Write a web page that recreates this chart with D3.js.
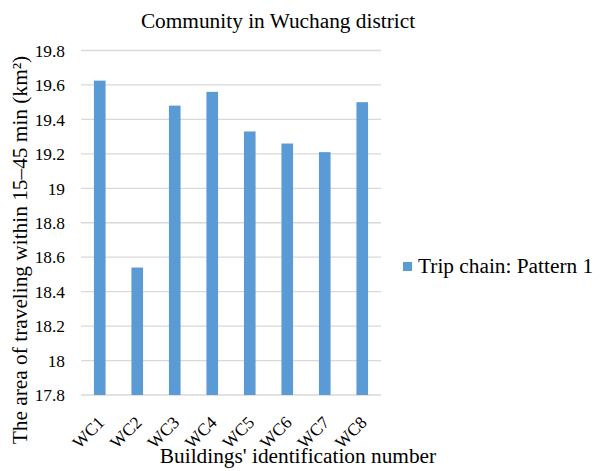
<!DOCTYPE html>
<html><head><meta charset="utf-8">
<script src="https://cdn.jsdelivr.net/npm/d3@7"></script>
<style>body{margin:0;background:#fff}svg{display:block}</style>
</head><body><svg id="c" width="608" height="471"></svg>
<script>
const categories = ["WC1","WC2","WC3","WC4","WC5","WC6","WC7","WC8"];
const values = [19.625, 18.54, 19.48, 19.56, 19.33, 19.26, 19.21, 19.50];
const yTicks = [17.8,18,18.2,18.4,18.6,18.8,19,19.2,19.4,19.6,19.8];
const seriesName = "Trip chain: Pattern 1";
const title = "Community in Wuchang district";
const xTitle = "Buildings' identification number";
const yTitle = "The area of traveling within 15\u201345 min (km\u00B2)";

const FONT = "'Liberation Serif', 'Times New Roman', serif";
const svg = d3.select("#c");
const m = {left:81, right:381, top:50.5, bottom:395};
const x = d3.scaleBand().domain(categories).range([m.left, m.right]).paddingInner(0.69).paddingOuter(0.345);
const y = d3.scaleLinear().domain([17.8,19.8]).range([m.bottom, m.top]);

// gridlines
svg.append("g").selectAll("line").data(yTicks).join("line")
  .attr("x1", m.left).attr("x2", m.right)
  .attr("y1", d=>y(d)).attr("y2", d=>y(d))
  .attr("stroke", "#D9D9D9").attr("stroke-width", 1.3);

// y tick labels
const yAxis = d3.axisLeft(y).tickValues(yTicks).tickSize(0).tickPadding(0).tickFormat(d=>String(+d.toFixed(1)));
const ya = svg.append("g").attr("transform", `translate(${65},0)`).call(yAxis);
ya.select(".domain").remove();
ya.attr("font-family", FONT).attr("font-size", 17.33);
ya.selectAll("text").attr("fill","#000").attr("dy","0.33em");

// bars
svg.append("g").selectAll("rect").data(values).join("rect")
  .attr("x", (d,i)=>x(categories[i])).attr("width", x.bandwidth())
  .attr("y", d=>y(d)).attr("height", d=>y(17.8)-y(d))
  .attr("fill", "#5B9BD5");

// x tick labels
const xAxis = d3.axisBottom(x).tickSize(0).tickPadding(0);
const xa = svg.append("g").attr("transform", `translate(0,${m.bottom})`).call(xAxis);
xa.select(".domain").remove();
xa.attr("font-family", FONT).attr("font-size", 17.33);
xa.selectAll(".tick text")
  .attr("fill","#000")
  .attr("text-anchor","end").attr("y",0).attr("dy","0.7em")
  .attr("transform","translate(-3,20) rotate(-45)");

// title
svg.append("text").attr("x", 278).attr("y", 28).attr("text-anchor","middle").attr("font-family", FONT).attr("font-size",21.33).text(title);
// x title
svg.append("text").attr("x", 298).attr("y", 463).attr("text-anchor","middle").attr("font-family", FONT).attr("font-size",21.33).text(xTitle);
// y title
svg.append("text").attr("transform","translate(27,250) rotate(-90)").attr("text-anchor","middle").attr("font-family", FONT).attr("font-size",21.33).text(yTitle);

// legend
const lg = svg.append("g").attr("transform","translate(403,262)");
lg.append("rect").attr("width",9).attr("height",9).attr("fill","#5B9BD5");
lg.append("text").attr("x",15).attr("y",11).attr("font-family", FONT).attr("font-size",21.33).text(seriesName);
</script></body></html>
